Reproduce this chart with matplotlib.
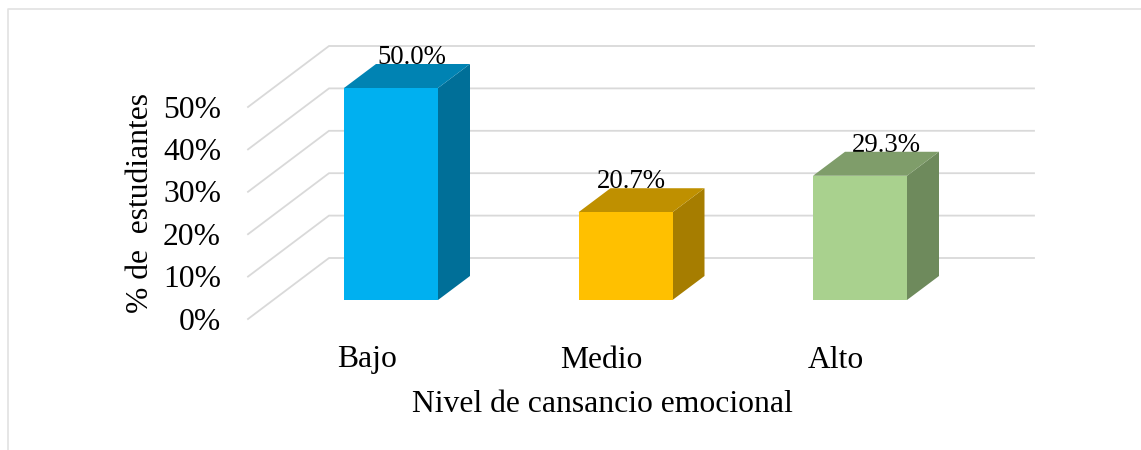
import matplotlib
matplotlib.use("Agg")
import matplotlib.pyplot as plt
from matplotlib.patches import Polygon, Rectangle

plt.rcParams['font.family'] = ['Liberation Serif', 'DejaVu Serif']

categories = ["Bajo", "Medio", "Alto"]
values = [50.0, 20.7, 29.3]
y_ticks = [0, 10, 20, 30, 40, 50]
y_title = "% de  estudiantes"
x_title = "Nivel de cansancio emocional"

front_colors = ["#00B0F0", "#FFC000", "#A9D18E"]
top_colors = ["#0083B3", "#BF9000", "#7F9D6A"]
side_colors = ["#006F98", "#A67D00", "#6E8A5C"]
label_shift = [21, 6, 26]

W, H = 1141, 450
PX_X = 234.5   # pixels per category
PX_Y = 4.24    # pixels per percent
X0, Y0 = 391, 300   # pixel of first category / zero on the bar plane


def ux(px):
    return px / PX_X


def uy(px):
    return px / PX_Y


fig = plt.figure(figsize=(W / 100, H / 100), dpi=100, facecolor="white")
ax = fig.add_axes([0, 0, 1, 1])
ax.set_xlim(-X0 / PX_X, (W - X0) / PX_X)
ax.set_ylim((Y0 - H) / PX_Y, Y0 / PX_Y)
ax.axis("off")

# chart frame, open on the right and at the bottom
ax.plot([ux(8 - X0), ux(8 - X0), ux(W - X0)], [uy(Y0 - H), uy(Y0 - 9), uy(Y0 - 9)],
        color="#e2e2e2", lw=1.2, zorder=1)

# gridlines: slanted on the side wall, then flat on the back wall
wall_left = ux(248 - X0)
wall_back = ux(329 - X0)
wall_right = ux(1034 - X0)
for t in y_ticks:
    ax.plot([wall_left, wall_back, wall_right],
            [t + uy(-19), t + uy(42), t + uy(42)],
            color="#d9d9d9", lw=1.3, zorder=2, solid_joinstyle="miter")
    ax.text(ux(221 - X0), t + uy(-22), f"{t}%", ha="right", va="center", fontsize=22.8, color="black")

# bars
bar_w = 94 / PX_X
dx = ux(32)
dy = uy(24)
for i, v in enumerate(values):
    x1 = i - bar_w / 2
    x2 = i + bar_w / 2
    ax.add_patch(Polygon([(x2, 0), (x2 + dx, dy), (x2 + dx, v + dy), (x2, v)],
                         facecolor=side_colors[i], edgecolor="none", zorder=3))
    ax.add_patch(Polygon([(x1, v), (x2, v), (x2 + dx, v + dy), (x1 + dx, v + dy)],
                         facecolor=top_colors[i], edgecolor="none", zorder=3))
    ax.add_patch(Rectangle((x1, 0), bar_w, v, facecolor=front_colors[i], edgecolor="none", zorder=4))
    ax.text(i + ux(label_shift[i]), v + dy, f"{v:.1f}%", ha="center", va="baseline",
            fontsize=19.3, color="black", zorder=2.5)
    ax.text(i - ux(24), uy(-60), categories[i], ha="center", va="center", fontsize=22.8, color="black")

ax.text(ux(602 - X0), uy(-104), x_title, ha="center", va="center", fontsize=22.8, color="black")
ax.text(ux(140 - X0), uy(Y0 - 203), y_title, ha="center", va="center", rotation=90, fontsize=22.8, color="black")

fig.savefig("out.png", dpi=100)
